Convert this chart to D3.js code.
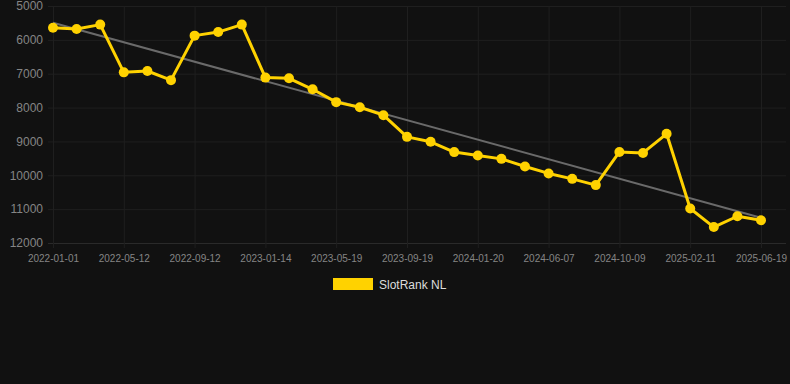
<!DOCTYPE html>
<html><head><meta charset="utf-8">
<script src="https://cdn.jsdelivr.net/npm/d3@7/dist/d3.min.js"></script>
<style>
html,body{margin:0;padding:0;background:#111111;}
svg{display:block;font-family:"Liberation Sans",Arial,sans-serif;}
</style></head>
<body><svg id="c" width="790" height="384"></svg>
<script>
const dates = ["2022-01-01","2022-02-13","2022-03-28","2022-05-12","2022-06-22","2022-08-02","2022-09-12","2022-10-24","2022-12-04","2023-01-14","2023-02-25","2023-04-07","2023-05-19","2023-06-29","2023-08-09","2023-09-19","2023-10-30","2023-12-10","2024-01-20","2024-03-06","2024-04-22","2024-06-07","2024-07-18","2024-08-28","2024-10-09","2024-11-20","2024-12-31","2025-02-11","2025-03-25","2025-05-07","2025-06-19"];
const ranks = [5640,5680,5550,6960,6920,7190,5875,5770,5550,7115,7135,7460,7840,7990,8225,8865,9010,9315,9415,9515,9740,9945,10105,10290,9310,9340,8775,10980,11530,11210,11330];
const yTicks = [5000,6000,7000,8000,9000,10000,11000,12000];
const xTickLabels = ["2022-01-01","2022-05-12","2022-09-12","2023-01-14","2023-05-19","2023-09-19","2024-01-20","2024-06-07","2024-10-09","2025-02-11","2025-06-19"];
const seriesName = "SlotRank NL";

(function(){
const svg = d3.select("#c");
const pl = 53, pr = 761, pt = 6, pb = 243, gridRight = 786;
const x = d3.scalePoint().domain(dates).range([pl, pr]);
const y = d3.scaleLinear().domain([5000, 12000]).range([pt, pb]);

// grid
const g = svg.append("g");
g.selectAll("line.h").data(yTicks).enter().append("line")
  .attr("x1", pl - 5).attr("x2", gridRight)
  .attr("y1", d => y(d) + 0.5).attr("y2", d => y(d) + 0.5)
  .attr("stroke", d => d === 12000 ? "#2a2a2a" : "#1f1f1f").attr("stroke-width", 1);
g.selectAll("line.v").data(xTickLabels).enter().append("line")
  .attr("x1", d => x(d) + 0.5).attr("x2", d => x(d) + 0.5)
  .attr("y1", pt).attr("y2", pb + 5)
  .attr("stroke", "#1f1f1f").attr("stroke-width", 1);

// y axis labels
const yAxis = d3.axisLeft(y).tickValues(yTicks).tickSize(0).tickPadding(0).tickFormat(d3.format("d"));
const ya = svg.append("g").attr("transform", `translate(${pl - 10},0)`).call(yAxis);
ya.select(".domain").remove();
ya.selectAll("text").attr("fill", "#858585").style("font-size", "12px").style("font-family", "Liberation Sans, Arial, sans-serif");

// x axis labels
const xAxis = d3.axisBottom(x).tickValues(xTickLabels).tickSize(0).tickPadding(0);
const xa = svg.append("g").attr("transform", `translate(0,${pb + 12})`).call(xAxis);
xa.select(".domain").remove();
xa.selectAll("text").attr("fill", "#858585").style("font-size", "10px").style("font-family", "Liberation Sans, Arial, sans-serif");

// trend line (least squares)
const n = ranks.length;
const idx = d3.range(n);
const mx = d3.mean(idx), my = d3.mean(ranks);
const slope = d3.sum(idx, i => (i - mx) * (ranks[i] - my)) / d3.sum(idx, i => (i - mx) * (i - mx));
const icpt = my - slope * mx;
svg.append("line")
  .attr("x1", x(dates[0])).attr("y1", y(icpt))
  .attr("x2", x(dates[n - 1])).attr("y2", y(icpt + slope * (n - 1)))
  .attr("stroke", "#6a6a6a").attr("stroke-width", 2);

// series line
const line = d3.line().x((d, i) => x(dates[i])).y(d => y(d));
svg.append("path").datum(ranks).attr("d", line)
  .attr("fill", "none").attr("stroke", "#ffd200").attr("stroke-width", 3).attr("stroke-linejoin", "round");
svg.selectAll("circle.p").data(ranks).enter().append("circle")
  .attr("cx", (d, i) => x(dates[i])).attr("cy", d => y(d)).attr("r", 5)
  .attr("fill", "#ffd200");

// legend
svg.append("rect").attr("x", 333).attr("y", 278).attr("width", 40).attr("height", 12).attr("fill", "#ffd200");
svg.append("text").attr("x", 379).attr("y", 288.5).text(seriesName)
  .attr("fill", "#dddddd").style("font-size", "12px");
})();
</script></body></html>
